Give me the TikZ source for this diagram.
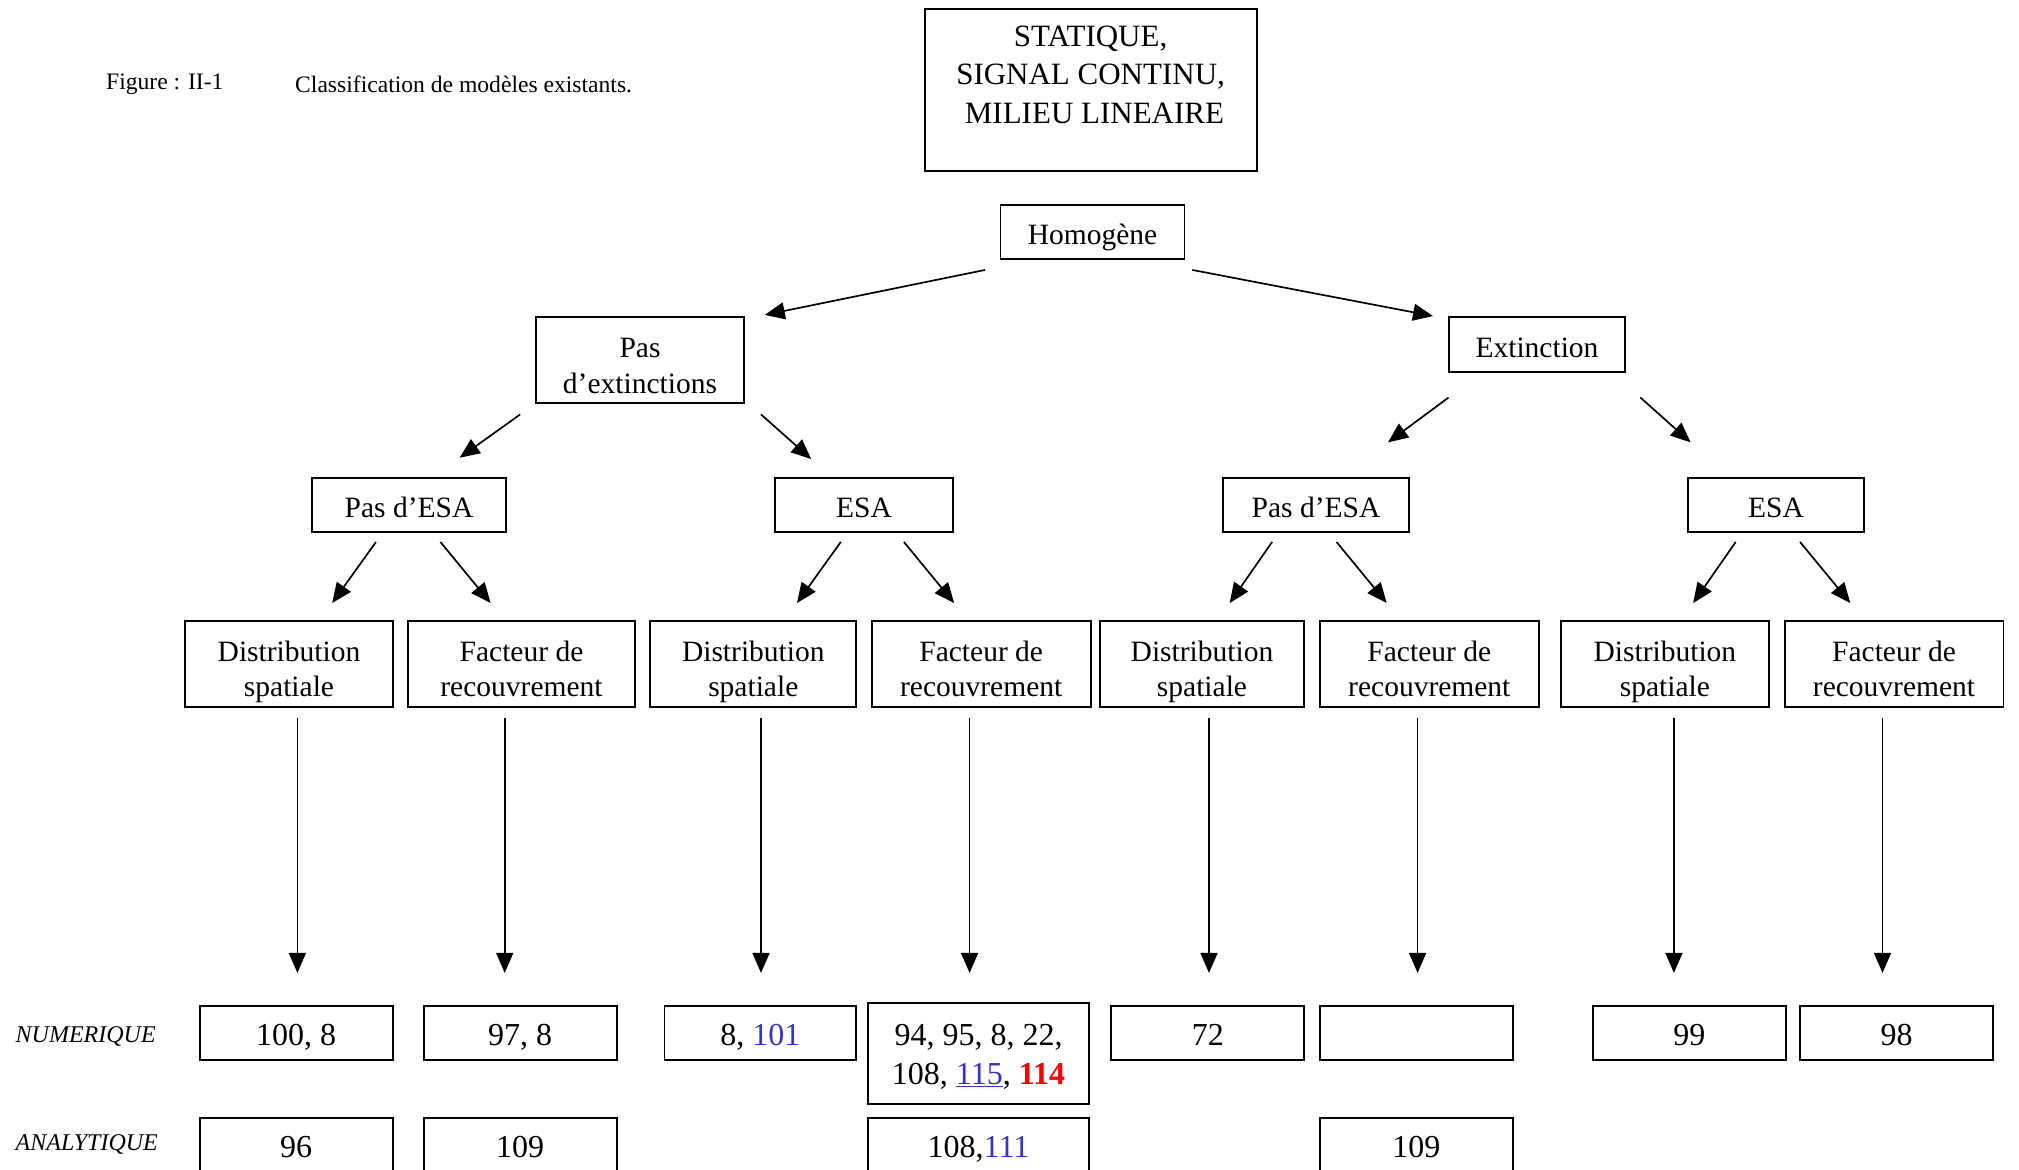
\documentclass[tikz,border=0pt]{standalone}
\usepackage{fontspec}
\setmainfont{Liberation Serif}
\usetikzlibrary{arrows.meta}
\definecolor{refblue}{RGB}{51,51,204}
\definecolor{refred}{RGB}{255,0,0}
\newcommand\myarrow[6]{\draw[arr] ([xshift=#2pt,yshift=#3pt]#1.south) -- ([xshift=#5pt,yshift=#6pt]#4.north);}
\begin{document}
\begin{tikzpicture}[x=1pt,y=-1pt,
  box/.style={draw, line width=1.9pt, inner sep=0pt, align=center, font=\fontsize{29.5}{36}\selectfont, text height=31pt, text depth=6pt},
  lbl/.style={inner sep=0pt, font=\fontsize{29.5}{35}\selectfont},
  numbox/.style={draw, line width=1.9pt, inner sep=0pt, align=center, font=\fontsize{32}{40}\selectfont, text height=28pt, text depth=2pt},
  numtxt/.style={inner sep=0pt, anchor=base, font=\fontsize{32}{40}\selectfont},
  side/.style={inner sep=0pt, anchor=west, font=\fontsize{24}{28}\selectfont\itshape},
  captxt/.style={inner sep=0pt, anchor=west, font=\fontsize{23.6}{28}\selectfont},
  arr/.style={line width=1.7pt, -{Triangle[length=20pt,width=17pt]}}]
\useasboundingbox (0,0) rectangle (2019,1170);
\fill[white] (0,0) rectangle (2019,1170);

% caption
\node[captxt] (figno) at (106,84) {Figure : II-1};
\node[captxt] (figtitle) at (295,84) {Classification de modèles existants.};

% top box
\node[draw, line width=1.9pt, minimum width=332pt, minimum height=162pt] (stat) at (1090.6,90) {};
\node[inner sep=0pt, align=center, font=\fontsize{31}{38.5}\selectfont] (stattxt) at (1090.6,74.5) {STATIQUE,\\SIGNAL CONTINU,\\\hspace*{0.25em}MILIEU LINEAIRE};

% level 1
\node[box, minimum width=184pt, minimum height=54pt] (hom) at (1092.5,231.8) {Homogène};

% level 2
\node[draw, line width=1.9pt, minimum width=208.6pt, minimum height=86.3pt] (pe) at (640,360) {};
\node[lbl, anchor=base] (pea) at (640,357) {Pas};
\node[lbl, anchor=base] (peb) at (640,393) {d’extinctions};
\node[box, minimum width=176.5pt, minimum height=55pt] (ext) at (1537,344.5) {Extinction};

% level 3
\node[box, minimum width=194.4pt, minimum height=54pt] (pesal) at (409,505) {Pas d’ESA};
\node[box, minimum width=177.8pt, minimum height=54pt] (esal) at (864,505) {ESA};
\node[box, minimum width=185.6pt, minimum height=54pt] (pesar) at (1316,505) {Pas d’ESA};
\node[box, minimum width=176.4pt, minimum height=54pt] (esar) at (1776,505) {ESA};

% level 4
\foreach \nm/\cx/\w/\la/\lb in {
  d1/289/207.3/Distribution/spatiale,
  f1/521.5/226.6/Facteur de/recouvrement,
  d2/753.3/206.1/Distribution/spatiale,
  f2/981.2/218.9/Facteur de/recouvrement,
  d3/1202/204.7/Distribution/spatiale,
  f3/1429.3/218.9/Facteur de/recouvrement,
  d4/1664.9/208.6/Distribution/spatiale,
  f4/1894/218.9/Facteur de/recouvrement}{
  \node[draw, line width=1.9pt, minimum width=\w pt, minimum height=86.3pt] (\nm) at (\cx,663.8) {};
  \begin{scope}
    \clip (\nm.south west) rectangle (\nm.north east);
    \node[lbl, anchor=base] (\nm a) at (\cx,661) {\la};
    \node[lbl, anchor=base] (\nm b) at (\cx,696.5) {\lb};
  \end{scope}
}

% arrows level 1 -> 2
\myarrow{hom}{-107.5}{-10.2}{pe}{124.8}{1}
\myarrow{hom}{99.8}{-10.2}{ext}{-104}{0}
% level 2 -> 3
\myarrow{pe}{-119.8}{-10.3}{pesal}{50.7}{19.3}
\myarrow{pe}{121}{-10.3}{esal}{-52.8}{18}
\myarrow{ext}{-88.5}{-24.6}{pesar}{72}{34.7}
\myarrow{ext}{103.4}{-24.6}{esar}{-85.4}{34.7}
% level 3 -> 4
\myarrow{pesal}{-33}{-9}{d1}{43.2}{16.7}
\myarrow{pesal}{31.4}{-9}{f1}{-30.9}{16.7}
\myarrow{esal}{-23.2}{-9}{d2}{43.7}{16.7}
\myarrow{esal}{39.9}{-9}{f2}{-27.1}{16.7}
\myarrow{pesar}{-43.9}{-9}{d3}{27.7}{16.7}
\myarrow{pesar}{20.5}{-9}{f3}{-42.6}{16.7}
\myarrow{esar}{-40.3}{-9}{d4}{28.3}{16.7}
\myarrow{esar}{24}{-9}{f4}{-43.7}{16.7}

% long vertical arrows
\foreach \nm/\dx in {d1/8.4, f1/-16.8, d2/7.7, f2/-11.6, d3/7, f3/-11.7, d4/9, f4/-11.5}{
  \draw[arr] ([xshift=\dx pt,yshift=-10pt]\nm.south) -- ++(0,255);
}

% side labels
\node[side] (numlbl) at (15.5,1036.5) {NUMERIQUE};
\node[side] (analbl) at (15.5,1144) {ANALYTIQUE};

% numerique row
\node[numbox, minimum width=193.1pt, minimum height=54pt] (n1) at (296.2,1032.6) {100, 8};
\node[numbox, minimum width=193.2pt, minimum height=54pt] (n2) at (520.2,1032.6) {97, 8};
\node[numbox, minimum width=191.9pt, minimum height=54pt] (n3) at (760.4,1032.6) {8, \textcolor{refblue}{101}};
\node[draw, line width=1.9pt, minimum width=221.5pt, minimum height=100.5pt] (n4) at (978.5,1053.3) {};
\node[numtxt] (n4a) at (978.5,1045) {94, 95, 8, 22,};
\node[numtxt] (n4b) at (978.5,1084.5) {108, \textcolor{refblue}{\underline{115}}, \textcolor{refred}{\bfseries 114}};
\node[numbox, minimum width=193.1pt, minimum height=54pt] (n5) at (1207.8,1032.6) {72};
\node[numbox, minimum width=193.2pt, minimum height=54pt] (n6) at (1416.4,1032.6) {};
\node[numbox, minimum width=193.1pt, minimum height=54pt] (n7) at (1689.3,1032.6) {99};
\node[numbox, minimum width=193.2pt, minimum height=54pt] (n8) at (1896.6,1032.6) {98};

% analytique row (boxes run past the bottom edge)
\foreach \nm/\cx/\w/\t in {a1/296.2/193.1/96, a2/520.2/193.2/109, a4/978.5/221.5/{108,\textcolor{refblue}{111}}, a6/1416.4/193.2/109}{
  \node[draw, line width=1.9pt, minimum width=\w pt, minimum height=80pt] (\nm) at (\cx,1157.6) {};
  \node[numtxt] (\nm txt) at (\cx,1157.5) {\t};
}
\end{tikzpicture}
\end{document}
